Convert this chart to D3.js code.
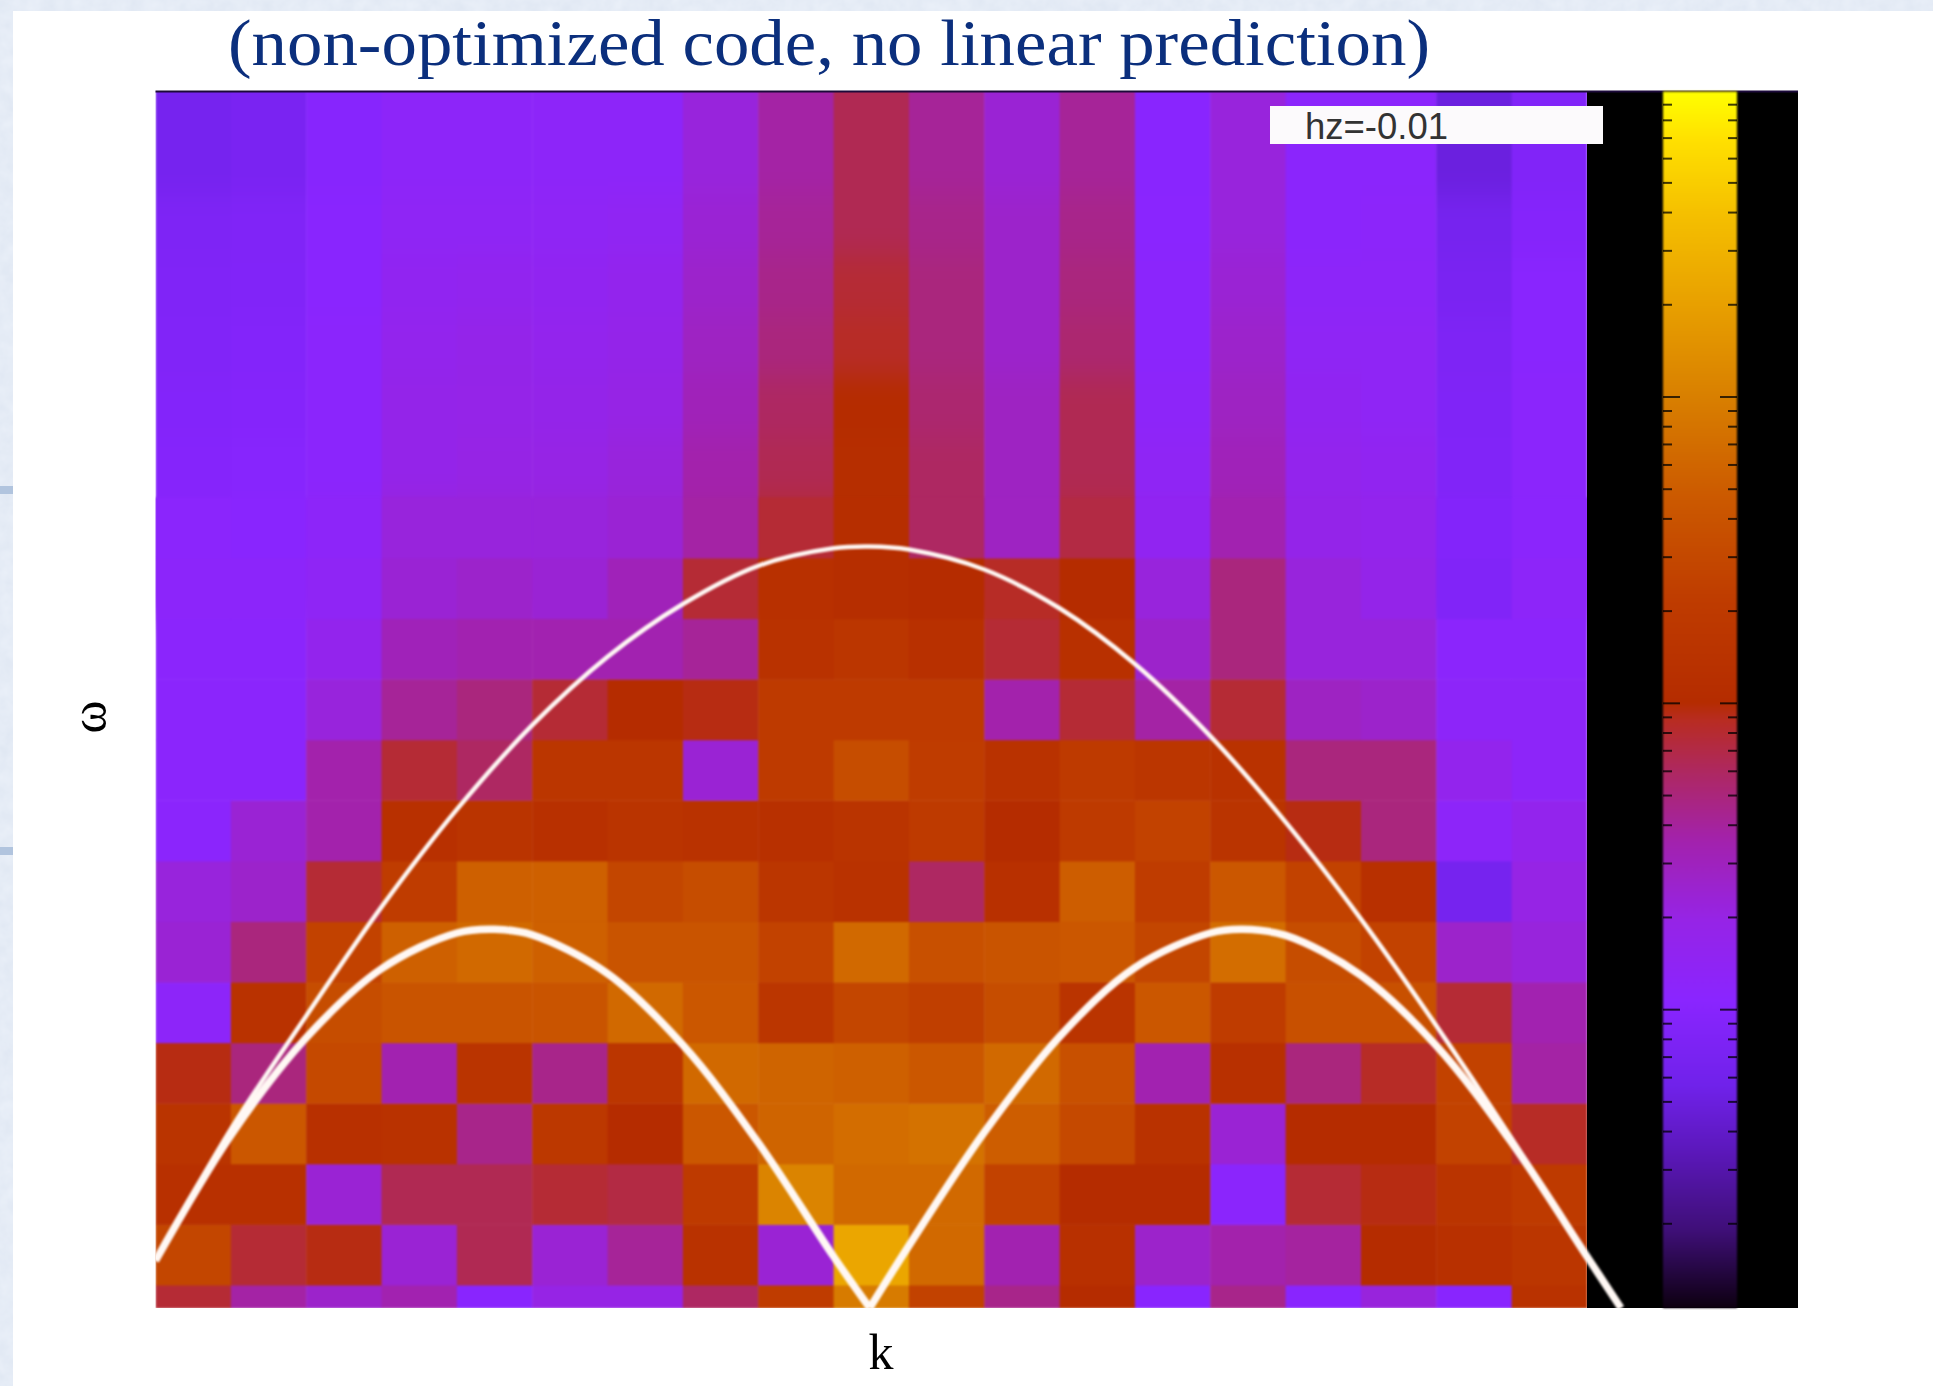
<!DOCTYPE html>
<html>
<head>
<meta charset="utf-8">
<script src="https://cdn.jsdelivr.net/npm/d3@7"></script>
<style>
  html, body { margin: 0; padding: 0; background: #fff; }
  svg { display: block; }
</style>
</head>
<body>
<div id="chart"></div>
<script>
// 19 k bins across, 21 omega rows. rows are listed from omega = 0 (short bottom row) upward
var kEdges = d3.range(0, 20);
var omegaEdges = [0, 0.38].concat(d3.range(1.38, 20.38, 1));
omegaEdges[omegaEdges.length - 1] = 21.5; // top row runs past the frame, the clip cuts it
var omegaTop = 20.08;

// cell values are the position on the colour bar (0 = bottom, 1 = top)
var intensity = [
  [.47,.39,.35,.38,.25,.32,.32,.44,.58,.74,.60,.41,.50,.25,.41,.25,.33,.25,.53],
  [.61,.47,.49,.34,.45,.34,.40,.53,.34,.84,.70,.38,.52,.35,.385,.395,.50,.52,.55],
  [.52,.52,.34,.45,.45,.47,.46,.57,.76,.70,.70,.60,.50,.50,.26,.47,.49,.54,.57],
  [.54,.66,.52,.53,.41,.56,.50,.66,.69,.71,.72,.675,.62,.53,.34,.50,.50,.60,.48],
  [.49,.42,.62,.38,.54,.41,.55,.70,.69,.68,.66,.70,.64,.38,.52,.42,.48,.60,.39],
  [.27,.53,.63,.65,.65,.65,.70,.66,.55,.61,.59,.63,.54,.66,.58,.64,.64,.47,.38],
  [.34,.42,.60,.68,.70,.68,.65,.65,.60,.70,.64,.65,.66,.61,.71,.63,.60,.35,.33],
  [.33,.35,.47,.58,.68,.68,.61,.63,.55,.53,.44,.52,.675,.58,.66,.60,.52,.20,.32],
  [.26,.34,.385,.52,.54,.52,.54,.53,.52,.54,.57,.50,.57,.60,.54,.49,.42,.27,.30],
  [.26,.26,.385,.47,.44,.55,.55,.34,.57,.63,.58,.53,.57,.55,.53,.42,.42,.30,.27],
  [.26,.26,.33,.40,.42,.47,.50,.49,.57,.57,.57,.385,.47,.39,.47,.36,.35,.27,.27],
  [.26,.26,.30,.37,.38,.38,.38,.40,.53,.55,.52,.47,.52,.35,.42,.33,.33,.26,.26],
  [.265,.265,.28,.34,.35,.34,.37,.47,.52,.51,.50,.48,.50,.33,.42,.33,.31,.23,.27],
  [.26,.25,.27,.33,.33,.33,.34,.39,.47,.51,.44,.36,.46,.29,.38,.31,.30,.235,.26],
  [.24,.245,.26,.31,.32,.32,.33,.385,.45,.51,.44,.36,.45,.28,.37,.30,.29,.23,.26],
  [.235,.24,.26,.31,.315,.31,.32,.37,.44,.50,.43,.36,.45,.27,.36,.29,.28,.225,.26],
  [.23,.235,.26,.30,.31,.30,.31,.36,.42,.48,.42,.35,.43,.26,.35,.28,.28,.22,.25],
  [.225,.23,.255,.29,.295,.29,.30,.35,.41,.47,.42,.35,.42,.26,.34,.27,.27,.21,.25],
  [.22,.225,.25,.28,.28,.28,.285,.34,.40,.45,.41,.35,.41,.255,.33,.26,.265,.20,.24],
  [.20,.21,.245,.27,.27,.27,.27,.33,.39,.45,.40,.34,.40,.25,.33,.26,.26,.17,.23],
  [.20,.205,.24,.26,.26,.26,.26,.33,.38,.44,.39,.34,.39,.25,.32,.25,.25,.16,.22]
];

// colour bar stops
var cmapPos = [0, .064, .13, .183, .253, .319, .385, .44, .483, .498, .582, .668, .75, .825, .90, .96, 1];
var cmapColors = ["#0d0010", "#3f0f78", "#5c18bc", "#7022ea", "#8a25ff", "#9624e6", "#a322ac", "#ae2862",
  "#b82c22", "#b52c00", "#bf3c00", "#cc5a00", "#d98000", "#e8a000", "#f5c000", "#ffe000", "#ffff00"];

var upperK = [0,1,2,3,4,5,6,7,8,9,9.48,10,11,12,13,14,15,16,17,18,19,19.45];
var upperW = [.78,2.95,4.82,6.62,8.23,9.62,10.75,11.62,12.25,12.54,12.57,12.52,12.19,11.55,10.63,9.44,8.02,6.42,4.66,2.8,.85,0];
var lowerK = [0,1,2,3,4,4.5,5,6,7,8,9,9.48];
var lowerW = [.78,2.85,4.46,5.6,6.19,6.25,6.16,5.52,4.34,2.73,.85,0];
var lower2K = [9.48,10,11,12,13,14,14.43,15,16,17,18,19,19.45];
var lower2W = [0,1.03,2.9,4.48,5.62,6.19,6.25,6.15,5.49,4.33,2.73,.85,0];

// log ticks of the colour bar
var barMajor = [1, 10, 100];
var barMinor = [.2,.3,.4,.5,.6,.7,.8,.9,2,3,4,5,6,7,8,9,20,30,40,50,60,70,80,90,200,300,400,500,600,700,800,900];

var width = 1933;
var height = 1386;

var svg = d3.select("#chart").append("svg")
  .attr("width", width)
  .attr("height", height);

var defs = svg.append("defs");

// soft blur, the reference is a video frame
defs.append("filter").attr("id", "soft")
  .attr("color-interpolation-filters", "sRGB")
  .attr("x", "-2%").attr("y", "-2%").attr("width", "104%").attr("height", "104%")
  .append("feGaussianBlur").attr("stdDeviation", 0.9);

// upper rows melt into each other in the reference
defs.append("filter").attr("id", "softV")
  .attr("color-interpolation-filters", "sRGB")
  .attr("x", "-2%").attr("y", "-15%").attr("width", "104%").attr("height", "130%")
  .append("feGaussianBlur").attr("stdDeviation", "0.9 14");

// mottled paper behind the slide
var paper = defs.append("filter").attr("id", "paper")
  .attr("color-interpolation-filters", "sRGB")
  .attr("x", 0).attr("y", 0).attr("width", "100%").attr("height", "100%");
paper.append("feTurbulence").attr("type", "fractalNoise").attr("baseFrequency", 0.07).attr("numOctaves", 3).attr("seed", 4);
paper.append("feColorMatrix").attr("type", "matrix")
  .attr("values", "0 0 0 0 0.82  0 0 0 0 0.86  0 0 0 0 0.92  0.55 0 0 0 -0.1");
paper.append("feComposite").attr("in2", "SourceGraphic").attr("operator", "over");

var xScale = d3.scaleLinear().domain([0, 19]).range([155.5, 1587]);
var yScale = d3.scaleLinear().domain([0, omegaTop]).range([1308, 91.5]);
var colorScale = d3.scaleLinear().domain(cmapPos).range(cmapColors);
var barScale = d3.scaleLog().domain([0.1058, 990]).range([1308, 91.5]);

// slide background
svg.append("rect").attr("width", width).attr("height", height)
  .attr("fill", "#e9eff8").attr("filter", "url(#paper)");
svg.append("rect").attr("x", 13).attr("y", 11).attr("width", width - 13).attr("height", height - 11)
  .attr("fill", "#fff");
svg.selectAll(".notch").data([490, 851]).enter().append("rect")
  .attr("class", "notch")
  .attr("x", 0).attr("y", function(d) { return d - 4; })
  .attr("width", 13).attr("height", 8)
  .attr("fill", "#b1c4de");

// black frame behind colour bar
svg.append("rect")
  .attr("x", xScale(19)).attr("y", yScale(omegaTop))
  .attr("width", 1798 - xScale(19)).attr("height", yScale(0) - yScale(omegaTop))
  .attr("fill", "#000");

// heatmap
var cells = [];
intensity.forEach(function(row, r) {
  row.forEach(function(v, c) {
    cells.push({r: r, c: c, v: v});
  });
});

var clipId = "plot-clip";
defs.append("clipPath").attr("id", clipId).append("rect")
  .attr("x", xScale(0)).attr("y", yScale(omegaTop))
  .attr("width", xScale(19) - xScale(0)).attr("height", yScale(0) - yScale(omegaTop));

var heat = svg.append("g").attr("clip-path", "url(#" + clipId + ")");

function drawCells(data, filterId) {
  heat.append("g")
    .attr("filter", "url(#" + filterId + ")")
    .selectAll("rect")
    .data(data)
    .enter()
    .append("rect")
    .attr("x", function(d) { return xScale(kEdges[d.c]); })
    .attr("y", function(d) { return yScale(omegaEdges[d.r + 1]); })
    .attr("width", function(d) { return xScale(kEdges[d.c + 1]) - xScale(kEdges[d.c]) + 0.5; })
    .attr("height", function(d) { return yScale(omegaEdges[d.r]) - yScale(omegaEdges[d.r + 1]) + 0.5; })
    .attr("fill", function(d) { return colorScale(d.v); });
}
drawCells(cells.filter(function(d) { return d.r >= 12; }), "softV");
drawCells(cells.filter(function(d) { return d.r <= 13; }), "soft");

// top edge of the frame
svg.append("line")
  .attr("x1", xScale(0)).attr("x2", 1798)
  .attr("y1", yScale(omegaTop)).attr("y2", yScale(omegaTop))
  .attr("stroke", "#1c0a3a").attr("stroke-width", 2);

// colour bar
var grad = defs.append("linearGradient").attr("id", "barGrad")
  .attr("x1", 0).attr("x2", 0).attr("y1", 1).attr("y2", 0);
cmapPos.forEach(function(p, i) {
  grad.append("stop").attr("offset", p).attr("stop-color", cmapColors[i]);
});

var barLeft = 1663;
var barRight = 1737;

svg.append("rect")
  .attr("x", barLeft).attr("y", yScale(omegaTop))
  .attr("width", barRight - barLeft).attr("height", yScale(0) - yScale(omegaTop))
  .attr("fill", "url(#barGrad)")
  .attr("filter", "url(#soft)");

function barTicks(vals, size, side, x) {
  var axis = side == "left" ? d3.axisLeft(barScale) : d3.axisRight(barScale);
  svg.append("g")
    .attr("class", "bar-axis")
    .attr("transform", "translate(" + x + ",0)")
    .call(axis.tickValues(vals).tickSize(size).tickFormat(""))
    .call(function(g) { g.select(".domain").remove(); })
    .selectAll("line")
    .attr("stroke", "#000")
    .attr("stroke-opacity", 0.75)
    .attr("stroke-width", 2);
}
barTicks(barMinor, 9, "right", barLeft);
barTicks(barMajor, 17, "right", barLeft);
barTicks(barMinor, 9, "left", barRight);
barTicks(barMajor, 17, "left", barRight);

// curves
var line = d3.line()
  .x(function(d) { return xScale(d[0]); })
  .y(function(d) { return yScale(d[1]); })
  .curve(d3.curveCatmullRom.alpha(0.5));

defs.append("clipPath").attr("id", "curve-clip").append("rect")
  .attr("x", xScale(0)).attr("y", yScale(omegaTop))
  .attr("width", width).attr("height", yScale(0) - yScale(omegaTop));

var curves = svg.append("g")
  .attr("clip-path", "url(#curve-clip)")
  .attr("fill", "none")
  .attr("stroke", "#fff8f4")
  .attr("filter", "url(#soft)");

curves.append("path")
  .attr("d", line(d3.zip(upperK, upperW)))
  .attr("stroke-width", 4.5);
curves.append("path")
  .attr("d", line(d3.zip(lowerK, lowerW)))
  .attr("stroke-width", 7.5);
curves.append("path")
  .attr("d", line(d3.zip(lower2K, lower2W)))
  .attr("stroke-width", 7.5);

// field label
svg.append("rect")
  .attr("x", 1270).attr("y", 106)
  .attr("width", 333).attr("height", 38)
  .attr("fill", "#fcfafc");
svg.append("text")
  .attr("x", 1305).attr("y", 139)
  .attr("font-family", "'Liberation Sans', Arial, sans-serif")
  .attr("font-size", 36.5)
  .attr("fill", "#333")
  .text("hz=-0.01");

// title and axis labels
svg.append("text")
  .attr("x", 228).attr("y", 65)
  .attr("font-family", "'Liberation Serif', serif")
  .attr("font-size", 66)
  .attr("fill", "#0b2f7d")
  .attr("textLength", 1202)
  .attr("lengthAdjust", "spacingAndGlyphs")
  .text("(non-optimized code, no linear prediction)");

svg.append("text")
  .attr("x", 881).attr("y", 1369)
  .attr("text-anchor", "middle")
  .attr("font-family", "'Liberation Serif', serif")
  .attr("font-size", 50)
  .attr("fill", "#000")
  .text("k");

svg.append("text")
  .attr("transform", "translate(106,717) rotate(-90)")
  .attr("text-anchor", "middle")
  .attr("font-family", "'Liberation Serif', serif")
  .attr("font-size", 50)
  .attr("fill", "#000")
  .text("ω");
</script>
</body>
</html>
